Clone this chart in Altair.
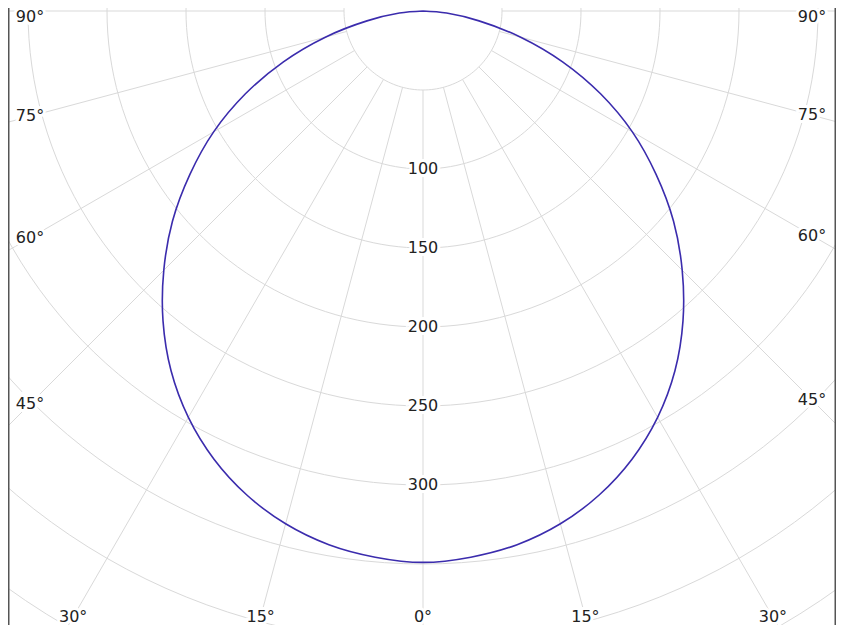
import numpy as np
import pandas as pd
import altair as alt

# ---- data -------------------------------------------------------------
ANGLES = [0, 5, 10, 15, 20, 25, 30, 35, 40, 45, 50, 55, 60, 65, 70, 75, 80, 85, 90]
INTENSITY = [349, 347, 343, 336, 326, 313, 297, 278, 256, 232, 207, 180, 153, 124, 94, 64, 36, 15, 0]
GRID_RADII = [50, 100, 150, 200, 250, 300, 350, 400, 450, 500]
RADIAL_ANGLES = [-90, -75, -60, -45, -30, -15, 0, 15, 30, 45, 60, 75, 90]
RING_LABELS = [100, 150, 200, 250, 300]
ANGLE_LABELS = [0, 15, 30, 45, 60, 75, 90]

# ---- layout ------------------------------------------------------------
PX = 1.58            # pixels per intensity unit
W, H = 828, 617      # plot area (fits the 844x633 window with the 8px margin)
CX, CY = 415, 3      # pole position inside the plot area (px)
XDOM = [-CX / PX, (W - CX) / PX]
YDOM = [-(H - CY) / PX, CY / PX]
INNER = 50           # radial lines start at this ring
OUTER = 700
LEFT_OFF, RIGHT_OFF, BOTTOM_OFF = 393, 389, 606   # label distances from the pole (px)

GRID = "#d9d9d9"
CURVE = "#3b2cad"
TEXT = "#222222"
FONT = "DejaVu Sans"

xs = alt.Scale(domain=XDOM, nice=False, zero=False)
ys = alt.Scale(domain=YDOM, nice=False, zero=False)


def pol(r, deg):
    t = np.radians(deg)
    return r * np.sin(t), -r * np.cos(t)


# curve (symmetric distribution)
rows = []
for side in (-1, 1):
    for a, v in zip(ANGLES, INTENSITY):
        if side == -1 and a == 0:
            continue
        x, y = pol(v, side * a)
        rows.append({"t": side * a, "x": x, "y": y})
curve_df = pd.DataFrame(rows)

# rings
rows = []
for r in GRID_RADII:
    for phi in np.arange(-180, 181, 2):
        x, y = pol(r, phi)
        rows.append({"r": r, "phi": float(phi), "x": x, "y": y})
ring_df = pd.DataFrame(rows)

# radial lines
rows = []
for a in RADIAL_ANGLES:
    for r in (INNER, OUTER):
        x, y = pol(r, a)
        rows.append({"a": a, "r": r, "x": x, "y": y})
radial_df = pd.DataFrame(rows)

# ring labels along the 0 deg line
ring_lab_df = pd.DataFrame({"x": [0.0] * len(RING_LABELS),
                            "y": [-float(r) for r in RING_LABELS],
                            "text": [str(r) for r in RING_LABELS]})

# angle labels where the radial lines leave the frame
top_limit = YDOM[1] - 9 / PX
rows = []
for a in ANGLE_LABELS:
    sides = (1,) if a == 0 else (-1, 1)
    for s in sides:
        off = (LEFT_OFF if s < 0 else RIGHT_OFF) / PX
        bottom = BOTTOM_OFF / PX
        if a > 0 and off / np.tan(np.radians(a)) < bottom:
            x = s * off
            y = -off / np.tan(np.radians(a))
        else:
            y = -bottom
            x = s * bottom * np.tan(np.radians(a))
        rows.append({"x": x, "y": min(y, top_limit), "text": f"{a}°"})
ang_lab_df = pd.DataFrame(rows)

X = alt.X("x:Q", scale=xs, axis=None)
Y = alt.Y("y:Q", scale=ys, axis=None)

rings = alt.Chart(ring_df).mark_line(color=GRID, strokeWidth=1, clip=True).encode(
    x=X, y=Y, detail="r:N", order="phi:Q")
radials = alt.Chart(radial_df).mark_line(color=GRID, strokeWidth=1, clip=True).encode(
    x=X, y=Y, detail="a:N", order="r:Q")
curve = alt.Chart(curve_df).mark_line(color=CURVE, strokeWidth=1.6, clip=True,
                                      interpolate="catmull-rom").encode(
    x=X, y=Y, order="t:Q")


def labels(df):
    halo = alt.Chart(df).mark_text(font=FONT, fontSize=16, align="center", baseline="middle",
                                   color="white", stroke="white", strokeWidth=6).encode(
        x=X, y=Y, text="text:N")
    txt = alt.Chart(df).mark_text(font=FONT, fontSize=16, align="center", baseline="middle",
                                  color=TEXT).encode(x=X, y=Y, text="text:N")
    return halo + txt


frame_df = pd.DataFrame({"side": ["l", "r"]})
left_border = alt.Chart(frame_df.iloc[:1]).mark_rule(color="#555555", strokeWidth=1.5).encode(
    x=alt.value(0.75), y=alt.value(0), y2=alt.value(H))
right_border = alt.Chart(frame_df.iloc[1:]).mark_rule(color="#555555", strokeWidth=1.5).encode(
    x=alt.value(W - 0.75), y=alt.value(0), y2=alt.value(H))

chart = alt.layer(
    rings, radials, curve, labels(ring_lab_df), labels(ang_lab_df), left_border, right_border
).properties(
    width=W, height=H, padding=0,
    autosize=alt.AutoSizeParams(type="none"),
    background="white",
).configure_view(stroke=None)

chart.save("out.html", embed_options={"renderer": "svg", "actions": False})
